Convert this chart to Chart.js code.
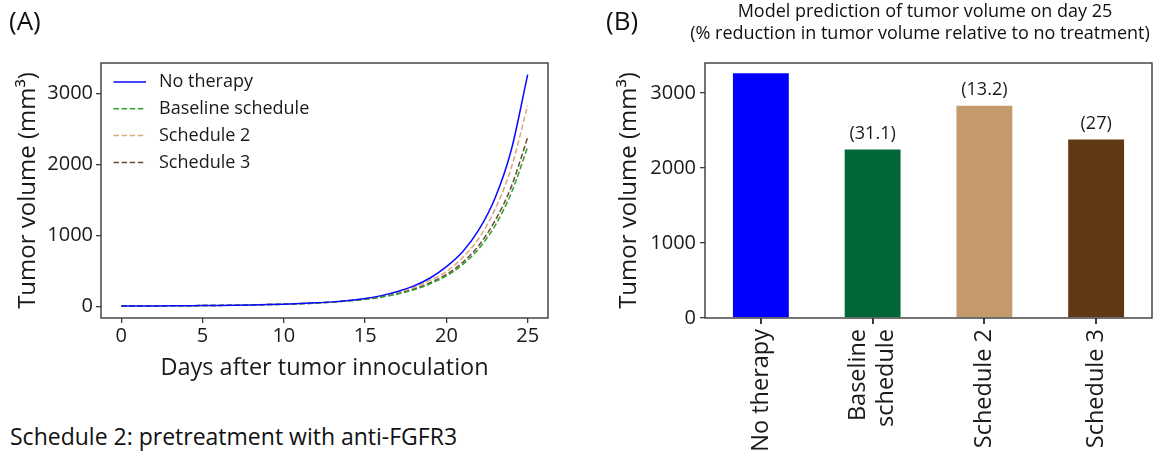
<!DOCTYPE html>
<html><head><meta charset="utf-8">
<script src="https://cdn.jsdelivr.net/npm/chart.js@4.4.1/dist/chart.umd.min.js"></script>
<style>
html,body{margin:0;padding:0;background:#fff;}
body{width:1168px;height:457px;position:relative;overflow:hidden;font-family:"Open Sans",sans-serif;color:#111;}
.t{position:absolute;white-space:nowrap;line-height:1;}
#wa{position:absolute;left:0;top:0;width:560px;height:400px;}
#wb{position:absolute;left:580px;top:0;width:588px;height:457px;}
</style></head><body>
<div id="wa"><canvas id="ca"></canvas></div>
<div id="wb"><canvas id="cb"></canvas></div>
<div class="t" style="left:9px;top:7px;font-size:26px">(A)</div>
<div class="t" style="left:606px;top:7px;font-size:26px">(B)</div>
<div class="t" style="left:925px;top:1px;font-size:18px;transform:translateX(-50%)">Model prediction of tumor volume on day 25</div>
<div class="t" style="left:920px;top:23px;font-size:18px;transform:translateX(-50%)">(% reduction in tumor volume relative to no treatment)</div>
<div class="t" style="left:10px;top:425px;font-size:23px">Schedule 2: pretreatment with anti-FGFR3</div>
<script>
// ---- data ----
const days = [0,1,2,3,4,5,6,7,8,9,10,11,12,13,14,15,16,17,18,19,20,21,22,23,24,25];
const noTherapy = [5,6,7,8,10,12,14,17,21,26,32,40,50,64,84,112,152,210,290,400,560,770,1080,1530,2210,3264];
const baselineSchedule = [5,6,7,8,10,12,14,17,21,26,31,39,48,61,79,100,132,175,235,320,430,590,815,1140,1600,2246];
const schedule2 = [5,6,7,8,10,12,14,17,21,26,32,40,49,63,82,108,145,198,270,370,490,690,960,1370,1960,2830];
const schedule3 = [5,6,7,8,10,12,14,17,21,26,31,39,48,62,80,102,136,182,245,335,450,620,860,1210,1690,2380];
const seriesNames = ['No therapy','Baseline schedule','Schedule 2','Schedule 3'];
const xTicksA = [0,5,10,15,20,25];
const yTicks = [0,1000,2000,3000];
const groups = ['No therapy',['Baseline','schedule'],'Schedule 2','Schedule 3'];
const day25Volume = [3264,2246,2830,2380];
const reductionPct = [null,31.1,13.2,27];

const FONT = '"Open Sans", sans-serif';
const INK = '#1a1a1a';
const AX = '#3a3a3a';

const frame = {id:'frame', afterDraw(c){const {ctx,chartArea:a}=c;ctx.save();ctx.strokeStyle=AX;ctx.lineWidth=1.4;ctx.strokeRect(a.left,a.top,a.right-a.left,a.bottom-a.top);ctx.restore();}};

const legendA = {id:'legendA', afterDatasetsDraw(c){
  const {ctx,chartArea:a}=c; ctx.save();
  ctx.font='18px '+FONT; ctx.textBaseline='middle'; ctx.textAlign='left';
  c.data.datasets.forEach((ds,i)=>{
    const y=a.top+19+i*26.8;
    ctx.strokeStyle=ds.borderColor; ctx.lineWidth=ds.borderWidth; ctx.setLineDash(ds.borderDash||[]);
    ctx.beginPath(); ctx.moveTo(a.left+12.5,y); ctx.lineTo(a.left+45,y); ctx.stroke();
    ctx.setLineDash([]); ctx.fillStyle=INK; ctx.fillText(ds.label,a.left+58,y);
  });
  ctx.restore();
}};

const toXY = arr => days.map((d,i)=>({x:d,y:arr[i]}));
const lineColors = ['#0a0aff','#2ca02c','#d9a877','#6e4a32'];
const seriesData = [noTherapy,baselineSchedule,schedule2,schedule3];
const plain = v => String(v);

new Chart(document.getElementById('ca'),{
  type:'line',
  data:{datasets:seriesData.map((arr,i)=>({
    label:seriesNames[i], data:toXY(arr), borderColor:lineColors[i], backgroundColor:lineColors[i],
    borderWidth:1.5, borderDash:i===0?[]:[5.5,2.6], pointRadius:0, cubicInterpolationMode:'monotone', fill:false
  }))},
  options:{
    responsive:true, maintainAspectRatio:false, animation:false,
    layout:{padding:{top:63,right:12,left:0,bottom:0}},
    plugins:{legend:{display:false},tooltip:{enabled:false}},
    scales:{
      x:{type:'linear',min:-1.25,max:26.25,
        afterBuildTicks:s=>{s.ticks=xTicksA.map(v=>({value:v}));},
        afterFit:s=>{s.height=82;},
        border:{display:false},
        grid:{drawOnChartArea:false,drawTicks:true,tickLength:5,color:AX,lineWidth:1.3},
        ticks:{color:INK,font:{family:FONT,size:20},padding:1,maxRotation:0,callback:plain},
        title:{display:true,text:'Days after tumor innoculation',color:INK,font:{family:FONT,size:23.5},padding:{top:0,bottom:18}}
      },
      y:{type:'linear',min:-163,max:3427,
        afterBuildTicks:s=>{s.ticks=yTicks.map(v=>({value:v}));},
        afterFit:s=>{s.width=101;},
        border:{display:false},
        grid:{drawOnChartArea:false,drawTicks:true,tickLength:5,color:AX,lineWidth:1.3},
        ticks:{color:INK,font:{family:FONT,size:20},padding:3,callback:plain},
        title:{display:true,text:'Tumor volume (mm³)',color:INK,font:{family:FONT,size:24},padding:{top:14,bottom:0}}
      }
    }
  },
  plugins:[frame,legendA]
});

const barLabels = {id:'barLabels', afterDatasetsDraw(c){
  const {ctx}=c; const meta=c.getDatasetMeta(0); ctx.save();
  ctx.font='18px '+FONT; ctx.fillStyle=INK; ctx.textAlign='center'; ctx.textBaseline='middle';
  meta.data.forEach((bar,i)=>{ if(reductionPct[i]==null) return; ctx.fillText('('+reductionPct[i]+')',bar.x,bar.y-16); });
  ctx.restore();
}};

// rotated, centred (multi-line) category labels
const rotLabels = {id:'rotLabels', afterDraw(c){
  const {ctx,chartArea:a}=c; const sx=c.scales.x; ctx.save();
  ctx.font='23.5px '+FONT; ctx.fillStyle=INK; ctx.textAlign='right'; ctx.textBaseline='middle';
  const lh=28;
  c.data.labels.forEach((lab,i)=>{
    const lines=Array.isArray(lab)?lab:[lab]; const x=sx.getPixelForTick(i);
    ctx.save(); ctx.translate(x,a.bottom+11); ctx.rotate(-Math.PI/2);
    lines.forEach((ln,j)=>ctx.fillText(ln,0,(j-(lines.length-1)/2)*lh));
    ctx.restore();
  });
  ctx.restore();
}};

new Chart(document.getElementById('cb'),{
  type:'bar',
  data:{labels:groups,datasets:[{label:'Tumor volume on day 25',data:day25Volume,
    backgroundColor:['#0000ff','#006837','#c49a6c','#603813'],borderWidth:0,
    barPercentage:0.5,categoryPercentage:1.0}]},
  options:{
    responsive:true, maintainAspectRatio:false, animation:false,
    layout:{padding:{top:63,right:16,left:0,bottom:0}},
    plugins:{legend:{display:false},tooltip:{enabled:false}},
    scales:{
      x:{type:'category',offset:true,
        afterFit:s=>{s.height=139;},
        border:{display:false},
        grid:{offset:false,drawOnChartArea:false,drawTicks:true,tickLength:6,color:AX,lineWidth:2},
        ticks:{display:false,autoSkip:false}
      },
      y:{type:'linear',min:0,max:3400,
        afterBuildTicks:s=>{s.ticks=yTicks.map(v=>({value:v}));},
        afterFit:s=>{s.width=125;},
        border:{display:false},
        grid:{drawOnChartArea:false,drawTicks:true,tickLength:5,color:AX,lineWidth:1.3},
        ticks:{color:INK,font:{family:FONT,size:20},padding:4,callback:plain},
        title:{display:true,text:'Tumor volume (mm³)',color:INK,font:{family:FONT,size:24},padding:{top:35,bottom:0}}
      }
    }
  },
  plugins:[frame,barLabels,rotLabels]
});
</script>
</body></html>
